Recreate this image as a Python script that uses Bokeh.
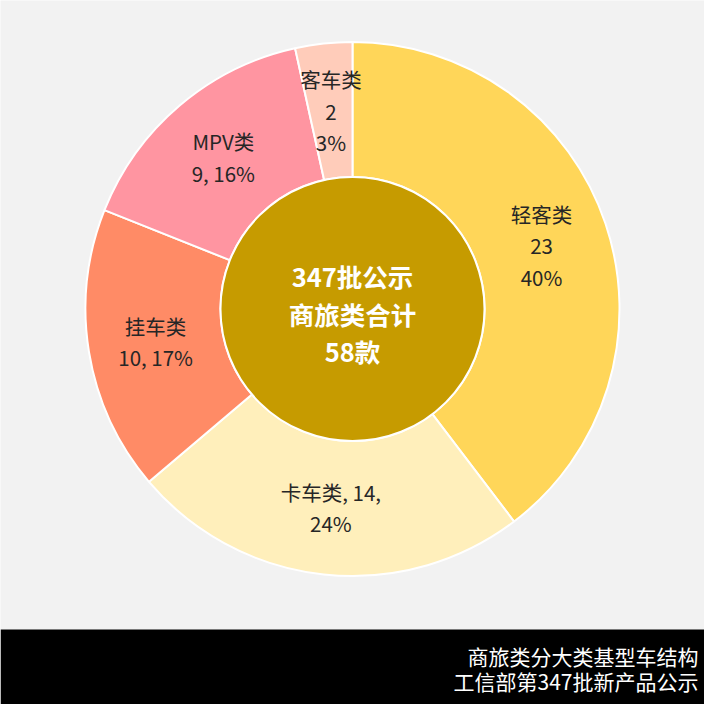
import math
from bokeh.plotting import figure
from bokeh.models import ColumnDataSource
from bokeh.core.properties import value
from bokeh.embed import file_html
from bokeh.resources import INLINE

# ---- data ----
categories = ["轻客类", "卡车类", "挂车类", "MPV类", "客车类"]
counts = [23, 14, 10, 9, 2]
slice_colors = ["#FFD659", "#FFEFBB", "#FF8B66", "#FF95A1", "#FFCCBA"]
# label line layout per slice (how the label wraps)
label_layouts = ["{name}\n{v}\n{p}%", "{name}, {v},\n{p}%", "{name}\n{v}, {p}%",
                 "{name}\n{v}, {p}%", "{name}\n{v}\n{p}%"]
center_lines = ["347批公示", "商旅类合计", "58款"]
footer_lines = ["商旅类分大类基型车结构", "工信部第347批新产品公示"]

FONT = "Noto Sans CJK SC"
W = H = 704
# page coords: data x = ref_x - 8, data y = 712 - ref_y
cx, cy = 352, 395.5
r_out, r_in = 267, 132

total = sum(counts)
starts, ends, mids = [], [], []
acc = 0
for c in counts:
    a0 = math.pi / 2 - 2 * math.pi * acc / total
    a1 = math.pi / 2 - 2 * math.pi * (acc + c) / total
    starts.append(a0)
    ends.append(a1)
    mids.append((a0 + a1) / 2)
    acc += c

pcts = [round(100 * c / total) for c in counts]
r_lab = (r_out + r_in) / 2
labels = [fmt.format(name=n, v=v, p=p) for fmt, n, v, p in zip(label_layouts, categories, counts, pcts)]
lx = [cx + r_lab * math.cos(m) for m in mids]
ly = [cy + r_lab * math.sin(m) for m in mids]

p = figure(width=W, height=H, x_range=(0, W), y_range=(0, H), output_backend="svg",
           toolbar_location=None, min_border=0, background_fill_color="#F2F2F2",
           border_fill_color="#F2F2F2", outline_line_color=None)
p.axis.visible = False
p.grid.visible = False

src = ColumnDataSource(dict(start=starts, end=ends, color=slice_colors))
p.annular_wedge(x=cx, y=cy, inner_radius=r_in, outer_radius=r_out, start_angle="start",
                end_angle="end", direction="clock", fill_color="color", line_color="white",
                line_width=2, source=src)

# center disk
p.circle(x=[cx], y=[cy], radius=r_in, fill_color="#C69B00", line_color="white", line_width=2)

# slice labels
p.text(x=lx, y=ly, text=labels, text_align="center", text_baseline="middle",
       text_font=value(FONT), text_font_size="20.5px", text_color="#262626", text_line_height=1.05)

# center text
p.text(x=[cx] * 3, y=[cy + 34, cy - 4, cy - 41], text=center_lines, text_align="center",
       text_baseline="middle", text_font=value(FONT), text_font_size="25.5px",
       text_font_style="bold", text_color="white")

# footer band
p.quad(left=[0], right=[W], bottom=[0], top=[75], fill_color="black", line_color=None)
p.text(x=[698, 698], y=[49, 24], text=footer_lines, text_align="right", text_baseline="middle",
       text_font=value(FONT), text_font_size="21px", text_color="white")

open("out.html", "w").write(file_html(p, INLINE))
